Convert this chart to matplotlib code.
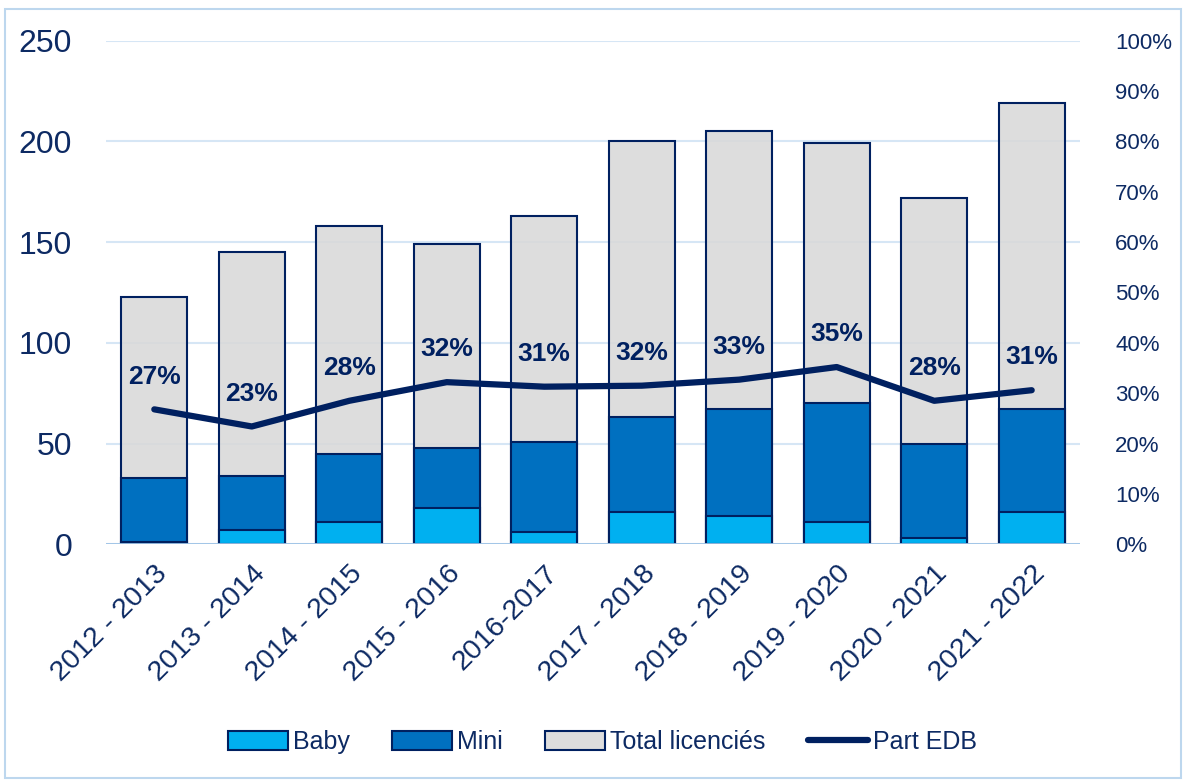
import numpy as np
import matplotlib.pyplot as plt
from matplotlib.patches import Rectangle

saisons = ["2012 - 2013", "2013 - 2014", "2014 - 2015", "2015 - 2016", "2016-2017",
           "2017 - 2018", "2018 - 2019", "2019 - 2020", "2020 - 2021", "2021 - 2022"]
total = [123, 145, 158, 149, 163, 200, 205, 199, 172, 219]
mini = [33, 34, 45, 48, 51, 63, 67, 70, 50, 67]
baby = [1, 7, 11, 18, 6, 16, 14, 11, 3, 16]
part_edb = [0.268, 0.234, 0.285, 0.322, 0.313, 0.315, 0.327, 0.352, 0.285, 0.306]
part_labels = ["27%", "23%", "28%", "32%", "31%", "32%", "33%", "35%", "28%", "31%"]

navy = "#002060"
txt = "#0D2A63"
plt.rcParams['font.family'] = ['Liberation Sans', 'DejaVu Sans']

fig = plt.figure(figsize=(11.86, 7.81), dpi=100)
ax = fig.add_axes([0.089, 0.303, 0.822, 0.645])
ax2 = ax.twinx()

x = np.arange(len(saisons))
w = 0.68
ax.bar(x, total, w, color=(0.85, 0.85, 0.85, 0.88), edgecolor=navy, linewidth=1.5,
       label="Total licenciés", zorder=2)
ax.bar(x, mini, w, color="#0070C0", edgecolor=navy, linewidth=1.5, label="Mini", zorder=3)
ax.bar(x, baby, w, color="#00B0F0", edgecolor=navy, linewidth=1.5, label="Baby", zorder=4)

ax.set_ylim(0, 250)
ax.set_yticks(range(0, 251, 50))
ax.set_xlim(-0.5, len(saisons) - 0.5)
ax.grid(axis="y", color="#D6E6F5", linewidth=1.5, zorder=1)
ax.set_axisbelow(True)
for s in ax.spines.values():
    s.set_visible(False)
ax.axhline(0, color="#9DC3E6", linewidth=2, zorder=6)
ax.tick_params(axis="y", length=0, labelsize=23, labelcolor=txt, pad=24)
ax.set_xticks(x)
ax.set_xticklabels(saisons, rotation=45, ha="right", rotation_mode="anchor", fontsize=20.5, color=txt)
ax.tick_params(axis="x", length=0, pad=12)

ax2.plot(x, part_edb, color=navy, linewidth=4.5, solid_capstyle="round", label="Part EDB", zorder=7)
for xi, p, lab in zip(x, part_edb, part_labels):
    ax2.text(xi, p + 0.065, lab, ha="center", va="center", fontsize=19, fontweight="bold", color=navy)
ax2.set_ylim(0, 1)
ax2.set_yticks(np.arange(0, 1.01, 0.1))
ax2.set_yticklabels([f"{int(round(v * 100))}%" for v in np.arange(0, 1.01, 0.1)])
ax2.tick_params(axis="y", length=0, labelsize=16, labelcolor=txt, pad=25)
for s in ax2.spines.values():
    s.set_visible(False)

h1, l1 = ax.get_legend_handles_labels()
h2, l2 = ax2.get_legend_handles_labels()
order = [2, 1, 0]
handles = [h1[i] for i in order] + h2
labels = [l1[i] for i in order] + l2
fig.legend(handles, labels, loc="center", bbox_to_anchor=(0.508, 0.05), ncol=4, frameon=False,
           fontsize=18, labelcolor=txt, handlelength=2.4, handleheight=0.8, handletextpad=0.2,
           columnspacing=1.7)

fig.patches.append(Rectangle((0.004, 0.004), 0.992, 0.985, transform=fig.transFigure,
                             fill=False, edgecolor="#BDD7EE", linewidth=1.5))

fig.savefig("out.png", dpi=100)
